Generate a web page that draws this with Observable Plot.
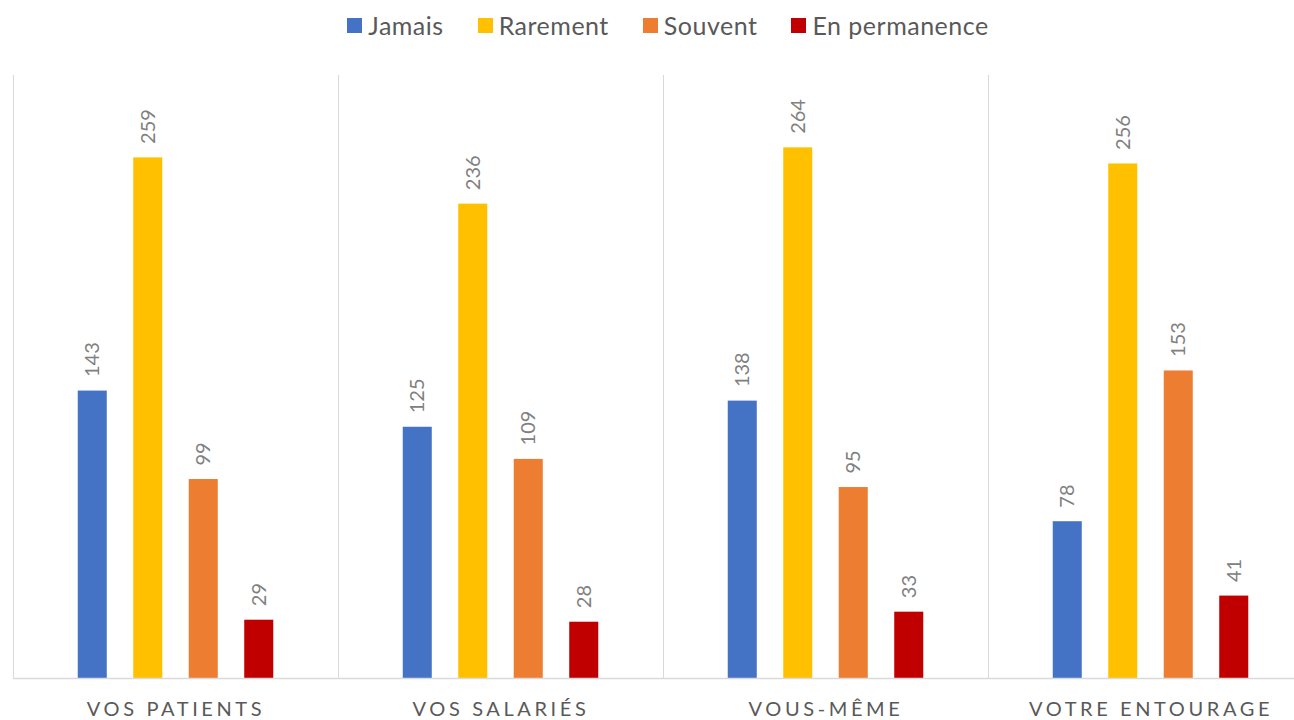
<!DOCTYPE html>
<html>
<head>
<meta charset="utf-8">
<script src="https://cdn.jsdelivr.net/npm/d3@7"></script>
<script src="https://cdn.jsdelivr.net/npm/@observablehq/plot@0.6"></script>
<style>
  html, body { margin: 0; padding: 0; background: #fff; overflow: hidden; width: 1294px; height: 720px; }
  #legend { height: 50px; display: flex; justify-content: center; align-items: center; font-family: Lato, "Open Sans", sans-serif; font-size: 25px; letter-spacing: 0.5px; color: #595959; padding-left: 42px; box-sizing: border-box; }
  #legend .item { display: flex; align-items: center; margin: 0 17px; }
  #legend .sw { width: 15px; height: 15px; margin-right: 6px; }
  #chart { width: 1313px; }
  #chart svg { max-width: none !important; }
  #chart svg g[aria-label="fx-axis tick label"] text { letter-spacing: 3.6px; }
</style>
</head>
<body>
<div id="legend"></div>
<div id="chart"></div>
<script>
const categories = ["VOS PATIENTS", "VOS SALARIÉS", "VOUS-MÊME", "VOTRE ENTOURAGE"];
const seriesNames = ["Jamais", "Rarement", "Souvent", "En permanence"];
const seriesColors = ["#4472C4", "#FFC000", "#ED7D31", "#C00000"];
const jamais = [143, 125, 138, 78];
const rarement = [259, 236, 264, 256];
const souvent = [99, 109, 95, 153];
const enPermanence = [29, 28, 33, 41];

const seriesValues = [jamais, rarement, souvent, enPermanence];
const data = [];
categories.forEach((c, i) => {
  seriesNames.forEach((s, j) => data.push({category: c, series: s, value: seriesValues[j][i]}));
});

// legend
const legend = document.getElementById("legend");
seriesNames.forEach((s, j) => {
  const it = document.createElement("div");
  it.className = "item";
  const sw = document.createElement("span");
  sw.className = "sw";
  sw.style.background = seriesColors[j];
  const t = document.createElement("span");
  t.textContent = s;
  it.appendChild(sw); it.appendChild(t);
  legend.appendChild(it);
});

const chart = Plot.plot({
  width: 1313,
  height: 670,
  marginLeft: 13,
  marginRight: 0,
  marginTop: 25,
  marginBottom: 42,
  style: {fontFamily: "Lato, 'Open Sans', sans-serif", color: "#595959", background: "#fff", overflow: "visible", maxWidth: "none"},
  fx: {domain: categories, padding: 0, label: null, round: false},
  x: {domain: seriesNames, paddingInner: 0.477, paddingOuter: 1.1665, round: false, axis: null},
  y: {domain: [0, 300], axis: null},
  color: {domain: seriesNames, range: seriesColors},
  marks: [
    Plot.frame({anchor: "left", stroke: "#d9d9d9", strokeWidth: 1}),
    Plot.barY(data, {fx: "category", x: "series", y: "value", fill: "series"}),
    Plot.ruleY([0], {stroke: "#d9d9d9", strokeWidth: 1.5}),
    Plot.text(data, {fx: "category", x: "series", y: "value", text: d => String(d.value), rotate: -90, textAnchor: "start", dy: -14, fill: "#808080", fontSize: 20}),
    Plot.axisFx({anchor: "bottom", tickSize: 0, tickPadding: 23, fontSize: 20, label: null})
  ]
});
document.getElementById("chart").appendChild(chart);
</script>
</body>
</html>
